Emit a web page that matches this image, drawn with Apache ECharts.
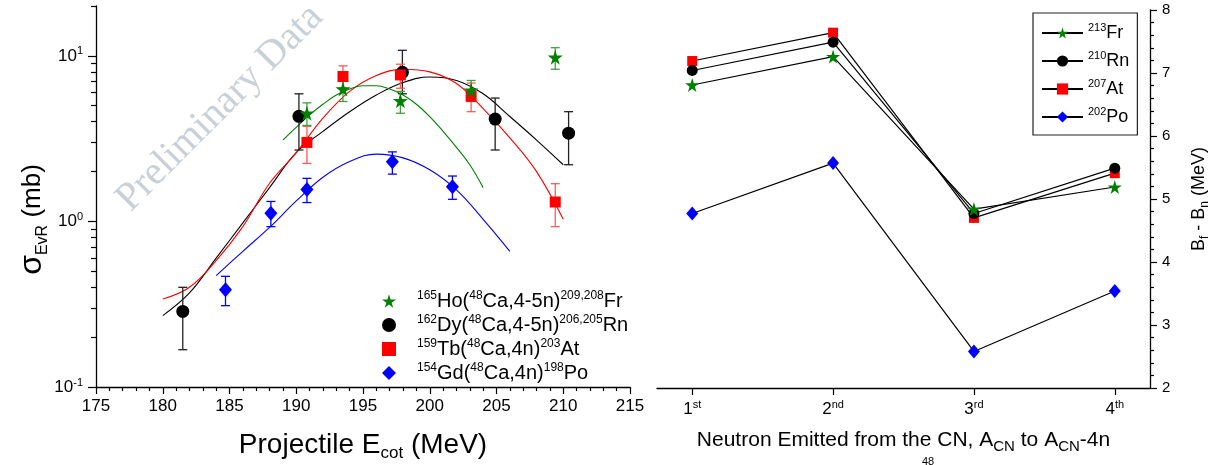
<!DOCTYPE html>
<html><head><meta charset="utf-8">
<script src="https://cdn.jsdelivr.net/npm/echarts@6/dist/echarts.min.js"></script>
<style>html,body{margin:0;padding:0;background:#fff}#c{width:1214px;height:465px}</style>
</head><body><div id="c"></div>
<script>
// ---------- Left panel: measured cross sections ----------
const hoE  = [190.8, 193.5, 197.8, 203.1, 209.4];
const hoV  = [4.5, 6.3, 5.35, 6.2, 9.8];
const hoLo = [3.8, 5.3, 4.5, 5.3, 8.3];
const hoHi = [5.2, 7.2, 6.1, 7.1, 11.2];

const dyE  = [181.5, 190.2, 197.95, 204.9, 210.4];
const dyV  = [0.286, 4.31, 7.95, 4.15, 3.41];
const dyLo = [0.168, 2.7, 5.9, 2.7, 2.2];
const dyHi = [0.40, 5.9, 10.8, 5.56, 4.6];

const tbE  = [190.8, 193.5, 197.8, 203.1, 209.4];
const tbV  = [3.0, 7.5, 7.67, 5.7, 1.31];
const tbLo = [2.24, 6.4, 6.37, 4.6, 0.93];
const tbHi = [3.75, 8.7, 8.9, 6.85, 1.69];

const gdE  = [184.7, 188.1, 190.8, 197.2, 201.7];
const gdV  = [0.387, 1.12, 1.56, 2.29, 1.62];
const gdLo = [0.31, 0.93, 1.3, 1.93, 1.36];
const gdHi = [0.466, 1.32, 1.82, 2.63, 1.88];

// fitted curves
const fitFrE = [189, 190, 191, 192, 193, 194, 195, 196, 197, 198, 199, 200, 201, 202, 203, 204];
const fitFrV = [3.1, 3.7, 4.4, 5.1, 5.8, 6.3, 6.6, 6.6, 6.3, 5.8, 5.1, 4.3, 3.5, 2.8, 2.2, 1.6];
const fitRnE = [180, 182, 184, 186, 188, 190, 192, 194, 196, 198, 200, 202, 204, 206, 208, 210];
const fitRnV = [0.27, 0.37, 0.6, 0.98, 1.6, 2.6, 3.5, 4.6, 5.8, 6.9, 7.45, 7.1, 5.9, 4.3, 3.1, 2.2];
const fitAtE = [180, 182, 184, 186, 188, 190, 192, 194, 196, 198, 200, 202, 204, 206, 208, 210];
const fitAtV = [0.34, 0.40, 0.58, 0.93, 1.7, 2.6, 4.2, 6.1, 7.6, 8.3, 8.0, 6.8, 4.8, 3.2, 2.0, 1.03];
const fitPoE = [184, 186, 188, 190, 192, 194, 196, 198, 200, 202, 204, 206];
const fitPoV = [0.47, 0.66, 0.92, 1.33, 1.85, 2.3, 2.55, 2.42, 2.05, 1.55, 1.03, 0.66];

const leftXTicks = [175, 180, 185, 190, 195, 200, 205, 210, 215];
const logMajor = [0.1, 1, 10];
const logMinor = [0.2,0.3,0.4,0.5,0.6,0.7,0.8,0.9,2,3,4,5,6,7,8,9,20];

// ---------- Right panel: Bf - Bn ----------
const steps = [1, 2, 3, 4];
const stepLabels = ['{b|1}{s|st}', '{b|2}{s|nd}', '{b|3}{s|rd}', '{b|4}{s|th}'];
const frB = [6.81, 7.26, 4.84, 5.19];
const rnB = [7.04, 7.49, 4.77, 5.49];
const atB = [7.19, 7.64, 4.70, 5.41];
const poB = [4.77, 5.57, 2.58, 3.54];

const FONT = '"Liberation Sans", Arial, sans-serif';
const STAR = 'path://M50,0 L61,35 L98,35 L68,57 L79,91 L50,70 L21,91 L32,57 L2,35 L39,35 Z';

const leftLegendText = {
  Ho: '{p|}{s|165}{b|Ho(}{s|48}{b|Ca,4-5n)}{s|209,208}{b|Fr}',
  Dy: '{p|}{s|162}{b|Dy(}{s|48}{b|Ca,4-5n)}{s|206,205}{b|Rn}',
  Tb: '{p|}{s|159}{b|Tb(}{s|48}{b|Ca,4n)}{s|203}{b|At}',
  Gd: '{p|}{s|154}{b|Gd(}{s|48}{b|Ca,4n)}{s|198}{b|Po}'
};
const rightLegendText = {
  Fr: '{s|213}{b|Fr}', Rn: '{s|210}{b|Rn}', At: '{s|207}{b|At}', Po: '{s|202}{b|Po}'
};

function zip(a, b) { return a.map((v, i) => [v, b[i]]); }
function zip3(a, b, c) { return a.map((v, i) => [v, b[i], c[i]]); }

function errRender(color) {
  return function (params, api) {
    const x = api.value(0), lo = api.value(1), hi = api.value(2);
    const pLo = api.coord([x, lo]), pHi = api.coord([x, hi]);
    const w = 4.5;
    const st = { stroke: color, lineWidth: 1.3 };
    return { type: 'group', children: [
      { type: 'line', shape: { x1: pLo[0], y1: pLo[1], x2: pHi[0], y2: pHi[1] }, style: st },
      { type: 'line', shape: { x1: pLo[0] - w, y1: pLo[1], x2: pLo[0] + w, y2: pLo[1] }, style: st },
      { type: 'line', shape: { x1: pHi[0] - w, y1: pHi[1], x2: pHi[0] + w, y2: pHi[1] }, style: st }
    ]};
  };
}
function errSeries(name, e, lo, hi, color) {
  return { type: 'custom', name: name + '_err', xAxisIndex: 0, yAxisIndex: 0, z: 2,
    renderItem: errRender(color), encode: { x: 0, y: [1, 2] }, data: zip3(e, lo, hi), silent: true };
}
function fitSeries(e, v, color) {
  return { type: 'line', xAxisIndex: 0, yAxisIndex: 0, smooth: 0.4, showSymbol: false, silent: true, z: 1,
    lineStyle: { color: color, width: 1.1 }, data: zip(e, v) };
}
function scatter(name, e, v, symbol, size, color) {
  return { type: 'scatter', name: name, xAxisIndex: 0, yAxisIndex: 0, z: 3, symbol: symbol, symbolSize: size,
    itemStyle: { color: color, opacity: 1 }, data: zip(e, v) };
}
function rightLine(name, vals, symbol, size, color) {
  return { type: 'line', name: name, xAxisIndex: 1, yAxisIndex: 2, symbol: symbol, symbolSize: size, showSymbol: true,
    lineStyle: { color: '#000', width: 1.2 }, itemStyle: { color: color },
    data: zip(steps, vals) };
}

const axisLineStyle = { color: '#000', width: 1.3 };
const richTick = {
  b: { fontSize: 17, fontFamily: FONT, color: '#000', lineHeight: 20 },
  s: { fontSize: 11, fontFamily: FONT, color: '#000', verticalAlign: 'top', lineHeight: 12 }
};

const option = {
  animation: false,
  backgroundColor: '#fff',
  grid: [
    { left: 96, top: 6, width: 534, height: 381, outerBoundsMode: 'none', containLabel: false },
    { left: 657, top: 10, width: 493, height: 378, outerBoundsMode: 'none', containLabel: false }
  ],
  xAxis: [
    { gridIndex: 0, type: 'value', min: 175, max: 215, interval: 5,
      axisLine: { show: true, lineStyle: axisLineStyle },
      axisTick: { show: true, length: 7, lineStyle: { color: '#000', width: 1.2 } },
      minorTick: { show: true, splitNumber: 5, length: 4, lineStyle: { color: '#000', width: 1.2 } },
      splitLine: { show: false },
      axisLabel: { fontSize: 17, fontFamily: FONT, color: '#000', margin: 11, showMinLabel: true, showMaxLabel: true },
      name: '{b|Projectile E}{sub|cot}{b| (MeV)}', nameLocation: 'middle', nameGap: 41,
      nameTextStyle: { rich: {
        b: { fontSize: 28, fontFamily: FONT, color: '#000', lineHeight: 34 },
        sub: { fontSize: 17, fontFamily: FONT, color: '#000', verticalAlign: 'bottom', lineHeight: 17 }
      } }
    },
    { gridIndex: 1, type: 'value', min: 0.75, max: 4.25,
      axisLine: { show: true, lineStyle: axisLineStyle },
      axisTick: { show: true, length: 7, customValues: steps, lineStyle: { color: '#000', width: 1.2 } },
      splitLine: { show: false },
      axisLabel: { customValues: steps, margin: 11,
        formatter: function (v) { return stepLabels[Math.round(v) - 1]; },
        rich: richTick },
      name: '{b|Neutron Emitted from the CN, A}{sub|CN}{b| to A}{sub|CN}{b|-4n}', nameLocation: 'middle', nameGap: 39,
      nameTextStyle: { rich: {
        b: { fontSize: 21, fontFamily: FONT, color: '#000', lineHeight: 27 },
        sub: { fontSize: 15, fontFamily: FONT, color: '#000', verticalAlign: 'bottom', lineHeight: 15 }
      } }
    }
  ],
  yAxis: [
    { gridIndex: 0, type: 'log', logBase: 10, min: 0.1, max: 20, position: 'left',
      axisLine: { show: true, lineStyle: axisLineStyle },
      axisTick: { show: true, length: 8, customValues: logMajor, lineStyle: { color: '#000', width: 1.2 } },
      splitLine: { show: false },
      axisLabel: { customValues: logMajor, margin: 13,
        formatter: function (v) { return '{b|10}{s|' + Math.round(Math.log10(v)) + '}'; },
        rich: richTick },
      name: '{g|σ}{sub|EvR}{b| (mb)}', nameLocation: 'middle', nameRotate: 90, nameGap: 44,
      nameTextStyle: { padding: [0, 46, 0, 0], rich: {
        g: { fontSize: 32, fontFamily: FONT, color: '#000', lineHeight: 36 },
        b: { fontSize: 26, fontFamily: FONT, color: '#000', lineHeight: 36 },
        sub: { fontSize: 16, fontFamily: FONT, color: '#000', verticalAlign: 'bottom', lineHeight: 16 }
      } }
    },
    { gridIndex: 0, type: 'log', logBase: 10, min: 0.1, max: 20, position: 'left',
      axisLine: { show: false },
      axisTick: { show: true, length: 5, customValues: logMinor, lineStyle: { color: '#000', width: 1.2 } },
      axisLabel: { show: false }, splitLine: { show: false }
    },
    { gridIndex: 1, type: 'value', min: 2, max: 8, interval: 1, position: 'right',
      axisLine: { show: true, lineStyle: axisLineStyle },
      axisTick: { show: true, length: 7, lineStyle: { color: '#000', width: 1.2 } },
      minorTick: { show: true, splitNumber: 5, length: 4, lineStyle: { color: '#000', width: 1.2 } },
      splitLine: { show: false },
      axisLabel: { fontSize: 15, fontFamily: FONT, color: '#000', margin: 12 },
      name: '{b|B}{sub|f}{b| - B}{sub|n}{b| (MeV)}', nameLocation: 'middle', nameRotate: 90, nameGap: 37,
      nameTextStyle: { rich: {
        b: { fontSize: 18, fontFamily: FONT, color: '#000', lineHeight: 24 },
        sub: { fontSize: 12, fontFamily: FONT, color: '#000', verticalAlign: 'bottom', lineHeight: 12 }
      } }
    }
  ],
  legend: [
    { orient: 'vertical', left: 377, top: 285, itemWidth: 14, itemHeight: 14, itemGap: 3,
      data: ['Ho', 'Dy', 'Tb', 'Gd'], selectedMode: false,
      formatter: function (n) { return leftLegendText[n]; },
      textStyle: { rich: {
        p: { width: 16, fontSize: 12, lineHeight: 22 },
        b: { fontSize: 20, fontFamily: FONT, color: '#000', lineHeight: 22 },
        s: { fontSize: 12, fontFamily: FONT, color: '#000', verticalAlign: 'top', lineHeight: 12 }
      } }
    },
    { orient: 'vertical', left: 1033, top: 13, itemWidth: 41, itemHeight: 14, itemGap: 8,
      padding: [9, 8, 9, 8], borderColor: '#222', borderWidth: 1.2,
      data: ['Fr', 'Rn', 'At', 'Po'], selectedMode: false,
      formatter: function (n) { return rightLegendText[n]; },
      textStyle: { rich: {
        b: { fontSize: 18, fontFamily: FONT, color: '#000', lineHeight: 22 },
        s: { fontSize: 11, fontFamily: FONT, color: '#000', verticalAlign: 'top', lineHeight: 11 }
      } }
    }
  ],
  graphic: [
    { type: 'text', x: 220, y: 108, rotation: Math.PI / 4, z: 0, silent: true,
      style: { text: 'Preliminary Data', font: '40px "Liberation Serif", "Times New Roman", serif',
        fill: '#c9d0d8', align: 'center', verticalAlign: 'middle' } },
    { type: 'text', x: 928, y: 456, silent: true,
      style: { text: '48', font: '11px "Liberation Sans", Arial, sans-serif', fill: '#000', align: 'center' } }
  ],
  series: [
    fitSeries(fitRnE, fitRnV, '#000000'),
    fitSeries(fitAtE, fitAtV, '#ff0000'),
    fitSeries(fitFrE, fitFrV, '#008000'),
    fitSeries(fitPoE, fitPoV, '#0000ff'),
    errSeries('Dy', dyE, dyLo, dyHi, '#222222'),
    errSeries('Tb', tbE, tbLo, tbHi, '#ff5a5a'),
    errSeries('Ho', hoE, hoLo, hoHi, '#3f9f3f'),
    errSeries('Gd', gdE, gdLo, gdHi, '#0000ff'),
    scatter('Dy', dyE, dyV, 'circle', 13, '#000000'),
    scatter('Tb', tbE, tbV, 'rect', 11, '#ff0000'),
    scatter('Ho', hoE, hoV, STAR, 15, '#008000'),
    scatter('Gd', gdE, gdV, 'diamond', [13, 15], '#0000ff'),
    rightLine('Po', poB, 'diamond', [12, 14], '#0000ff'),
    rightLine('At', atB, 'rect', 10, '#ff0000'),
    rightLine('Rn', rnB, 'circle', 11, '#000000'),
    rightLine('Fr', frB, STAR, 14, '#008000')
  ]
};
const chart = echarts.init(document.getElementById('c'), null, { renderer: 'canvas' });
chart.setOption(option);
</script>
</body></html>
